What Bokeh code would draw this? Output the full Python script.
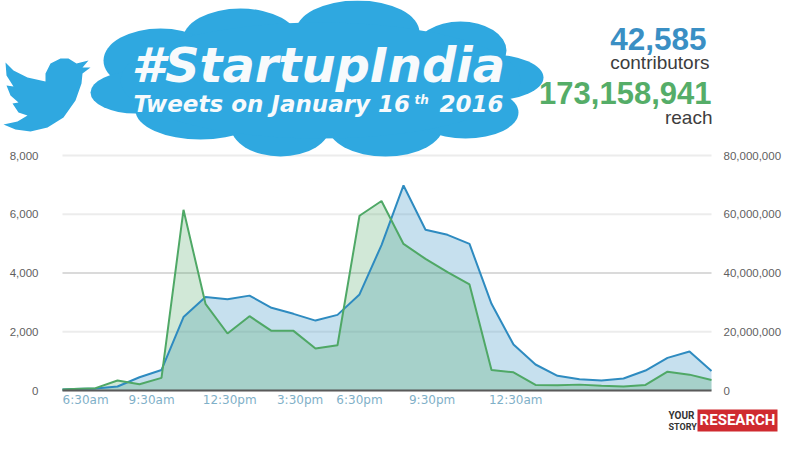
from bokeh.core.properties import value
from bokeh.embed import file_html
from bokeh.resources import INLINE
from bokeh.plotting import figure
from bokeh.models import Range1d, LinearAxis, FixedTicker, NumeralTickFormatter

# ---- data ----
hours = [-0.5, 0, 1, 2, 3, 4, 5, 6, 7, 8, 9, 10, 11, 12, 13, 14, 15, 16, 17, 18, 19,
         20, 21, 22, 23, 24, 25, 26, 27, 28, 29]
tweets = [30, 50, 70, 136, 450, 700, 2500, 3180, 3110, 3230, 2815, 2610, 2380, 2575, 3270, 4950,
          6980, 5470, 5300, 4990, 2950, 1565, 885, 500, 385, 340, 410, 680, 1110, 1330, 660]
reach = [300000, 500000, 800000, 3400000, 2150000, 4300000, 61500000, 29500000, 19400000,
         25300000, 20300000, 20300000, 14300000, 15400000, 59500000, 64500000, 49900000,
         44800000, 40300000, 36100000, 7000000, 6200000, 1900000, 1800000, 2000000, 1600000,
         1400000, 1900000, 6400000, 5400000, 3600000]
x_ticks = [0.55, 3.55, 7.1, 10.3, 13, 16.3, 20.1]
x_labels = ["6:30am", "9:30am", "12:30pm", "3:30pm", "6:30pm", "9:30pm", "12:30am"]
left_ticks = [0, 2000, 4000, 6000, 8000]
right_ticks = [0, 20000000, 40000000, 60000000, 80000000]
grid_colors = ["#ececec", "#ececec", "#dadada", "#ececec", "#ececec"]

BLUE = "#2e8bc0"
GREEN = "#4fa866"
CLOUD = "#2fa8e0"
W, H = 790, 445
PX_Y = 8000 / 235      # tweets per page pixel
PX_X = 1 / 22          # hours per page pixel


def data_x(px):
    return (px - 73) * PX_X


def data_y(py):
    return (390 - py) * PX_Y


p = figure(width=W, height=H, output_backend="svg", toolbar_location=None,
           x_range=Range1d(data_x(0), data_x(W)), y_range=Range1d(data_y(H), data_y(0)),
           min_border_left=0, min_border_right=0, min_border_top=0, min_border_bottom=0,
           outline_line_color=None, background_fill_color="white", border_fill_color="white")
p.extra_y_ranges = {"reach": Range1d(data_y(H) * 10000, data_y(0) * 10000),
                    "page": Range1d(H, 0)}
p.extra_x_ranges = {"page": Range1d(0, W)}
p.grid.visible = False

p.segment(x0=[hours[0]] * 5, x1=[hours[-1]] * 5, y0=left_ticks, y1=left_ticks,
          line_color=grid_colors, line_width=2)
p.varea(hours, [0] * len(hours), tweets, fill_color=BLUE, fill_alpha=0.27)
p.varea(hours, [0] * len(hours), reach, y_range_name="reach", fill_color=GREEN, fill_alpha=0.26)
p.line(hours, tweets, line_color=BLUE, line_width=2)
p.line(hours, reach, y_range_name="reach", line_color=GREEN, line_width=2)

ax = p.xaxis[0]
ax.fixed_location = 0
ax.bounds = (hours[0], hours[-1])
ax.ticker = FixedTicker(ticks=x_ticks)
ax.major_label_overrides = dict(zip(x_ticks, x_labels))
ax.major_label_text_font = "DejaVu Sans"
ax.major_label_text_font_size = "12px"
ax.major_label_text_color = "#7fb0c8"
ax.axis_line_color = "#5a5a5a"
ax.axis_line_width = 2
ax.major_tick_line_color = None
ax.minor_tick_line_color = None
ax.major_label_standoff = -4

ay = p.yaxis[0]
ay.fixed_location = hours[0]
ay.ticker = FixedTicker(ticks=left_ticks)
ay.formatter = NumeralTickFormatter(format="0,0")
ay.axis_line_color = None
ay.major_tick_line_color = None
ay.minor_tick_line_color = None
ay.major_label_text_font = "Liberation Sans"
ay.major_label_text_font_size = "11.5px"
ay.major_label_text_color = "#5f5f5f"
ay.major_label_standoff = 18

ar = LinearAxis(y_range_name="reach", ticker=FixedTicker(ticks=right_ticks),
                formatter=NumeralTickFormatter(format="0,0"), fixed_location=hours[-1])
ar.axis_line_color = None
ar.major_tick_line_color = None
ar.minor_tick_line_color = None
ar.major_label_text_font = "Liberation Sans"
ar.major_label_text_font_size = "11.5px"
ar.major_label_text_color = "#5f5f5f"
ar.major_label_standoff = 6
p.add_layout(ar, "right")

PAGE = dict(x_range_name="page", y_range_name="page")

# cloud as a union of ellipses, in page pixels: centre x, centre y, half width, half height
lobes = [(357, 32, 62, 32), (240, 40, 58, 32), (160, 60, 57, 32), (135, 92, 45, 21),
         (200, 110, 65, 29), (280, 125, 50, 31), (385, 125, 58, 31), (465, 112, 53, 26),
         (490, 77, 53, 23), (460, 50, 46, 29), (320, 80, 200, 58)]
p.ellipse([e[0] for e in lobes], [e[1] for e in lobes], width=[2 * e[2] for e in lobes],
          height=[2 * e[3] for e in lobes], fill_color=CLOUD, line_color=None, **PAGE)

bird = [(5, 62), (13, 70), (27, 77), (45, 81), (45, 73), (50, 63), (60, 58), (68, 58), (76, 63),
        (88, 60), (82, 67), (90, 67), (82, 73), (81, 83), (75, 100), (63, 117), (47, 127),
        (30, 131), (15, 129), (3, 124), (17, 121), (27, 115), (18, 112), (12, 103), (18, 102),
        (10, 95), (6, 85), (13, 86), (6, 75)]
p.patch([b[0] for b in bird], [b[1] for b in bird], fill_color=CLOUD, line_color=None, **PAGE)


def text(s, px, py, size, color, font="Liberation Sans", style="normal", align="left"):
    p.text([px], [py - 0.38 * size], text=[s], text_font=value(font), text_font_size=f"{size}px",
           text_font_style=style, text_color=color, text_align=align,
           text_baseline="alphabetic", **PAGE)


WHITE = "#f7fafc"
text("#StartupIndia", 131, 83, 48, WHITE, "DejaVu Sans", "bold italic")
text("Tweets on January 16", 133, 112, 23, WHITE, "DejaVu Sans", "bold italic")
text("th", 414, 104, 12, WHITE, "DejaVu Sans", "bold italic")
text("2016", 503, 112, 23, WHITE, "DejaVu Sans", "bold italic", "right")
text("42,585", 706, 50, 31.5, "#3a8fc4", style="bold", align="right")
text("contributors", 709, 69, 19, "#3d3d3d", align="right")
text("173,158,941", 711, 104, 31, "#55ad68", style="bold", align="right")
text("reach", 712, 124, 19, "#3d3d3d", align="right")

p.quad(left=[697], right=[777], top=[409], bottom=[431], fill_color="#cf2a2f", line_color=None, **PAGE)
text("RESEARCH", 737, 425, 15, "#ffffff", "Roboto", "bold", "center")
text("YOUR", 668, 419, 10, "#333333", "Roboto", "bold")
text("STORY", 668, 430, 9, "#333333", "Roboto", "bold")

open("out.html", "w").write(file_html(p, INLINE))
